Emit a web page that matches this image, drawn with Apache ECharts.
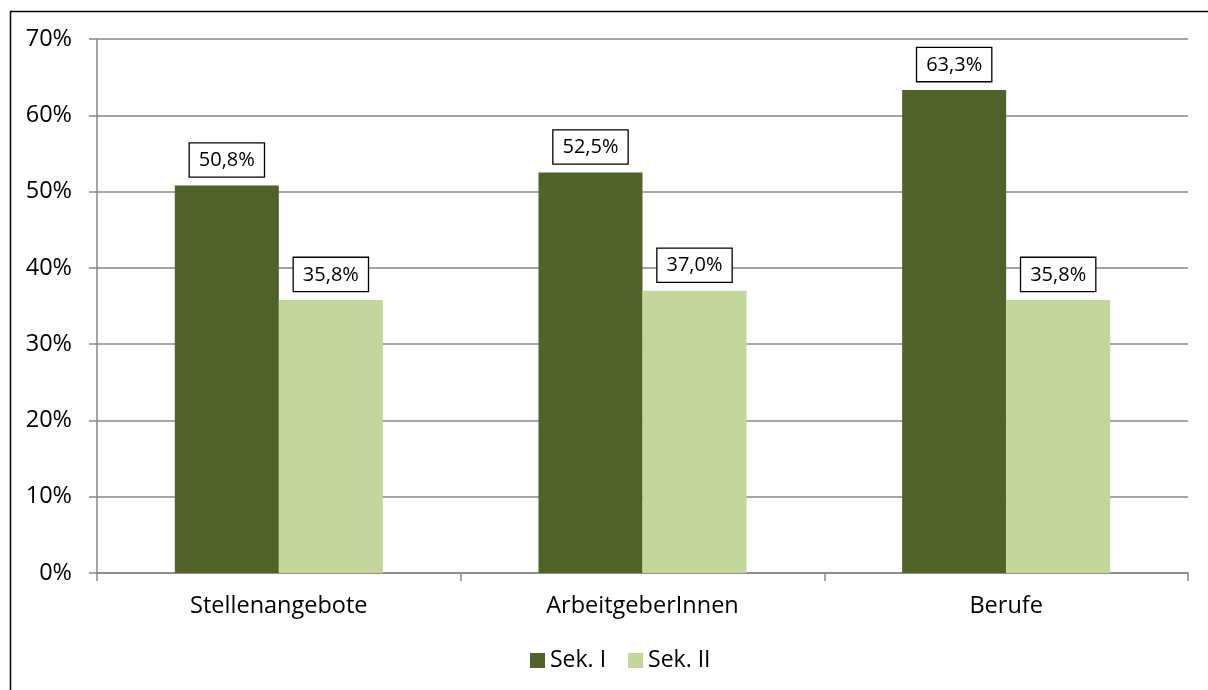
<!DOCTYPE html>
<html><head><meta charset="utf-8">
<script src="https://cdn.jsdelivr.net/npm/echarts@6/dist/echarts.min.js"></script>
<style>html,body{margin:0;padding:0;background:#fff}#c{width:1208px;height:690px}</style>
</head><body><div id="c"></div>
<script>
const categories = ['Stellenangebote', 'ArbeitgeberInnen', 'Berufe'];
const seriesNames = ['Sek. I', 'Sek. II'];
const sek1 = [50.8, 52.5, 63.3];
const sek2 = [35.8, 37.0, 35.8];
const yTicks = [0, 10, 20, 30, 40, 50, 60, 70];

const FONT = '"Open Sans", Lato, sans-serif';
const chart = echarts.init(document.getElementById('c'));
const labelCfg = {
  show: true, position: 'top', distance: 9,
  formatter: p => p.value.toFixed(1).replace('.', ',') + '%',
  color: '#000', fontFamily: FONT, fontSize: 20,
  backgroundColor: '#fff', borderColor: '#000', borderWidth: 1.3,
  padding: [7, 9, 6, 9]
};
chart.setOption({
  animation: false,
  textStyle: { fontFamily: FONT },
  graphic: [{ type: 'rect', left: 8, top: 9, shape: { width: 1230, height: 720 },
    style: { fill: 'none', stroke: '#000', lineWidth: 1.5 }, z: 100 }],
  grid: { left: 97, right: 20, top: 39, bottom: 117 },
  legend: {
    bottom: 13, left: 525, itemWidth: 15, itemHeight: 15, itemGap: 22,
    icon: 'rect', textStyle: { fontSize: 23, color: '#000', fontFamily: FONT },
    data: seriesNames
  },
  xAxis: {
    type: 'category', data: categories,
    axisLine: { lineStyle: { color: '#878787', width: 1.5 } },
    axisTick: { show: true, length: 8, lineStyle: { color: '#878787', width: 1.5 } },
    axisLabel: { color: '#000', fontSize: 23.5, margin: 21, fontFamily: FONT }
  },
  yAxis: {
    type: 'value', min: yTicks[0], max: yTicks[yTicks.length - 1], interval: 10,
    axisLine: { show: true, lineStyle: { color: '#878787', width: 1.5 } },
    axisTick: { show: true, length: 8, lineStyle: { color: '#878787', width: 1.5 } },
    splitLine: { lineStyle: { color: '#878787', width: 1.5 } },
    axisLabel: { color: '#000', fontSize: 23.5, margin: 25, fontFamily: FONT, formatter: v => v + '%' }
  },
  series: [
    { name: seriesNames[0], type: 'bar', data: sek1, barGap: '0%', barCategoryGap: '42.8%',
      itemStyle: { color: '#4F6228' }, label: labelCfg },
    { name: seriesNames[1], type: 'bar', data: sek2,
      itemStyle: { color: '#C3D69B' }, label: labelCfg }
  ]
});
</script></body></html>
